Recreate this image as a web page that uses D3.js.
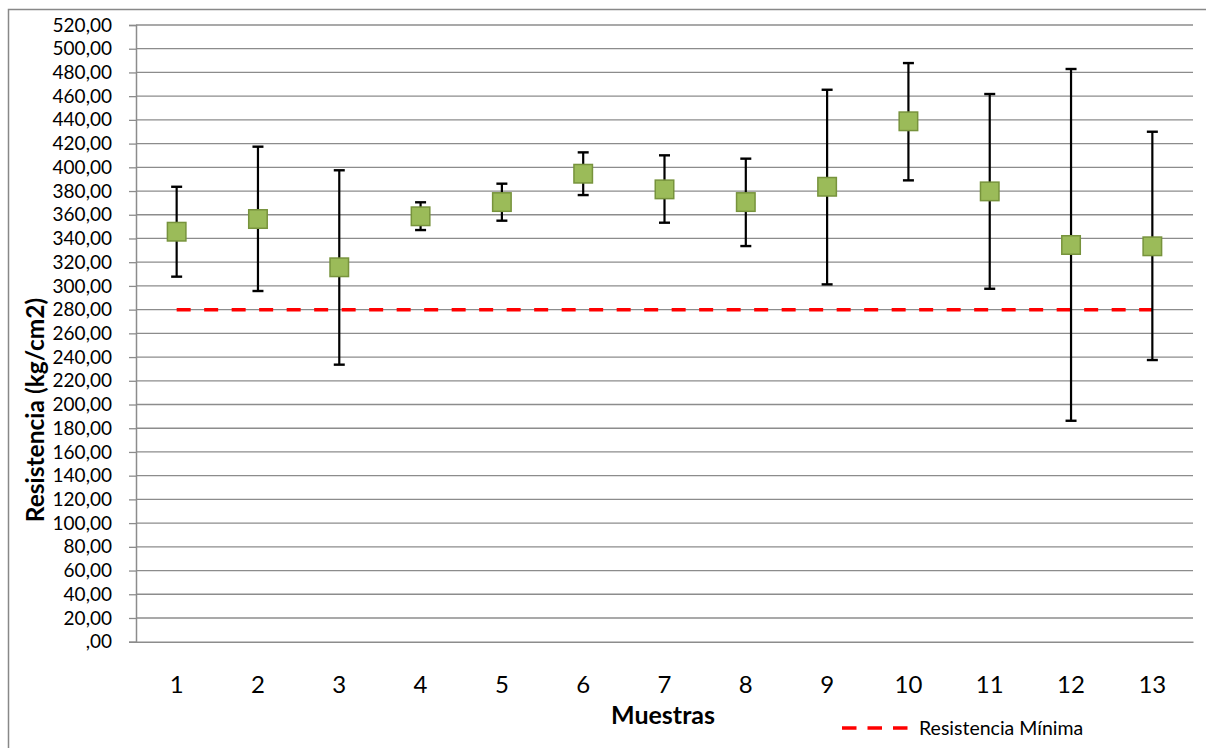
<!DOCTYPE html>
<html><head><meta charset="utf-8">
<script src="https://cdn.jsdelivr.net/npm/d3@7"></script>
<style>
html,body{margin:0;padding:0;background:#fff;}
svg{display:block;}
text{font-family:Lato,"Open Sans",sans-serif;fill:#000;}
</style></head>
<body>
<svg id="c" width="1206" height="748"></svg>
<script>
const categories = ["1","2","3","4","5","6","7","8","9","10","11","12","13"];
const means  = [345.7,356.4,315.7,358.7,370.7,394.6,381.4,370.7,383.6,438.8,379.7,334.5,333.4];
const upper  = [383.6,417.4,397.5,370.5,386.2,412.6,410.1,407.3,465.4,487.9,461.8,482.9,430.0];
const lower  = [307.8,295.7,233.6,347.1,355.0,376.6,353.3,333.6,301.3,389.0,297.6,186.3,237.5];
const minimo = 280;
const yTicks = d3.range(0, 521, 20);
const yTitle = "Resistencia (kg/cm2)";
const xTitle = "Muestras";
const legendLabel = "Resistencia Mínima";

const svg = d3.select("#c");
const L = 136, R = 1193, T = 25, B = 641.7;

// outer frame
svg.append("rect").attr("x",8.5).attr("y",9.5).attr("width",1206).attr("height",760)
  .attr("fill","none").attr("stroke","#888").attr("stroke-width",1.5);

const x = d3.scaleBand().domain(categories).range([L,R]);
const y = d3.scaleLinear().domain([0,520]).range([B,T]);
const fmt = v => (v===0 ? ",00" : d3.format(".2f")(v).replace(".",","));

// gridlines
svg.append("g").selectAll("line").data(yTicks.filter(d=>d>0)).join("line")
  .attr("x1",L).attr("x2",R).attr("y1",d=>y(d)).attr("y2",d=>y(d))
  .attr("stroke","#8c8c8c").attr("stroke-width",1.3);

// y axis
const ya = svg.append("g").attr("transform",`translate(${L},0)`)
  .call(d3.axisLeft(y).tickValues(yTicks).tickFormat(fmt).tickSize(7).tickPadding(17));
ya.select(".domain").attr("stroke","#8c8c8c").attr("stroke-width",1.5);
ya.selectAll(".tick line").attr("stroke","#8c8c8c").attr("stroke-width",1.3);
ya.selectAll("text").style("font-size","19px").style("font-family","Lato").attr("fill","#000");

// x axis
const xa = svg.append("g").attr("transform",`translate(0,${B})`)
  .call(d3.axisBottom(x).tickSize(0).tickPadding(34));
xa.select(".domain").attr("stroke","#8c8c8c").attr("stroke-width",1.5);
xa.selectAll("text").style("font-size","24px").style("font-family","Lato").attr("fill","#000");

// minimum line
svg.append("line")
  .attr("x1",x(categories[0])+x.bandwidth()/2)
  .attr("x2",x(categories[categories.length-1])+x.bandwidth()/2)
  .attr("y1",y(minimo)).attr("y2",y(minimo))
  .attr("stroke","#ff0000").attr("stroke-width",3.5).attr("stroke-dasharray","14,13.5");

// error bars
const g = svg.append("g");
const cx = i => x(categories[i]) + x.bandwidth()/2;
categories.forEach((c,i)=>{
  g.append("line").attr("x1",cx(i)).attr("x2",cx(i)).attr("y1",y(upper[i])).attr("y2",y(lower[i]))
    .attr("stroke","#000").attr("stroke-width",2.2);
  [upper[i],lower[i]].forEach(v=>{
    g.append("line").attr("x1",cx(i)-5.5).attr("x2",cx(i)+5.5).attr("y1",y(v)).attr("y2",y(v))
      .attr("stroke","#000").attr("stroke-width",2.4);
  });
});
// markers
const ms = 18.5;
svg.append("g").selectAll("rect").data(means).join("rect")
  .attr("x",(d,i)=>cx(i)-ms/2).attr("y",d=>y(d)-ms/2).attr("width",ms).attr("height",ms)
  .attr("fill","#9bbb59").attr("stroke","#77933c").attr("stroke-width",1.5);

// titles
svg.append("text").attr("x",663).attr("y",724).attr("text-anchor","middle")
  .style("font-size","25px").style("font-weight","bold").text(xTitle);
svg.append("text").attr("transform","translate(44,410) rotate(-90)").attr("text-anchor","middle")
  .style("font-size","24.5px").style("font-weight","bold").text(yTitle);

// legend
svg.append("line").attr("x1",842).attr("x2",908).attr("y1",728).attr("y2",728)
  .attr("stroke","#ff0000").attr("stroke-width",3.5).attr("stroke-dasharray","14.5,11");
svg.append("text").attr("x",919).attr("y",735).style("font-size","19.5px").text(legendLabel);
</script>
</body></html>
